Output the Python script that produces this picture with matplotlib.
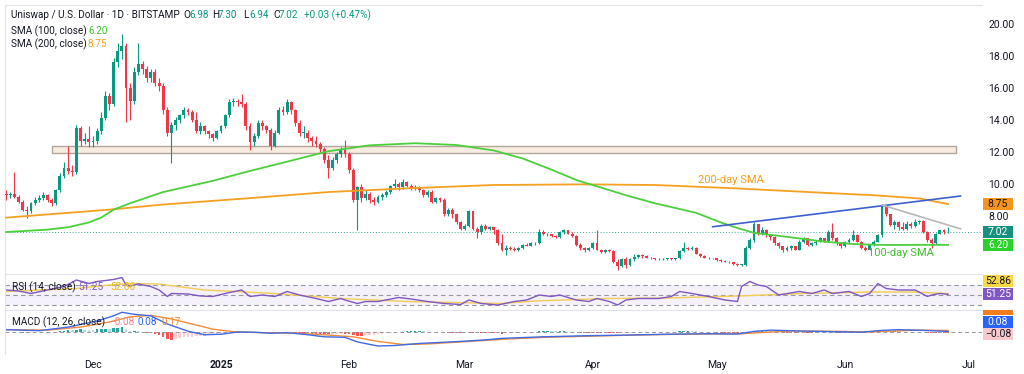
import numpy as np
import pandas as pd
import matplotlib
matplotlib.use('Agg')
import matplotlib.pyplot as plt
from matplotlib.patches import Rectangle

plt.rcParams['font.family'] = ['Roboto', 'DejaVu Sans']

# daily UNI/USD candles, 2024-11-10 .. 2025-06-26 (open = previous close)
start = '2024-11-10'
first_open = 9.4
closes = [
    9.3, 9.35, 9.2, 8.9, 8.4, 8.3, 8.8, 9.0, 9.1, 9.3,
    9.0, 8.8, 9.6, 10.5, 11.0, 10.8, 10.75, 13.5, 12.7, 12.8,
    12.6, 12.7, 13.3, 14.1, 15.5, 15.0, 17.6, 18.3, 18.6, 16.0,
    15.2, 17.0, 17.5, 17.2, 16.6, 17.0, 16.3, 16.1, 14.6, 13.2,
    13.7, 14.0, 14.3, 14.6, 14.5, 14.0, 13.3, 13.6, 13.3, 13.1,
    12.9, 13.3, 13.6, 14.3, 15.1, 15.2, 15.1, 15.0, 13.6, 12.6,
    13.0, 13.8, 13.6, 13.4, 12.4, 13.2, 14.6, 14.5, 15.1, 14.6,
    13.8, 13.2, 13.2, 12.9, 12.7, 12.5, 12.2, 11.5, 11.0, 11.5,
    11.9, 12.2, 11.9, 10.9, 9.0, 9.8, 9.1, 9.4, 9.0, 8.9,
    9.2, 9.3, 9.5, 9.85, 10.0, 9.8, 10.1, 9.9, 9.7, 9.8,
    9.6, 9.3, 9.5, 8.9, 9.1, 9.0, 8.1, 8.4, 8.1, 7.6,
    7.2, 7.4, 8.3, 7.2, 7.0, 7.4, 7.2, 7.3, 7.1, 6.3,
    5.9, 6.0, 5.95, 5.85, 6.0, 6.2, 6.15, 6.3, 6.3, 7.0,
    6.85, 6.85, 6.75, 6.7, 7.0, 7.1, 6.9, 6.75, 6.2, 6.0,
    5.85, 6.0, 6.3, 5.9, 5.75, 5.9, 5.8, 5.15, 4.9, 5.3,
    4.95, 5.3, 5.45, 5.55, 5.5, 5.4, 5.35, 5.3, 5.3, 5.3,
    5.35, 5.3, 5.35, 5.8, 6.0, 5.95, 6.0, 5.65, 5.5, 5.4,
    5.35, 5.35, 5.25, 5.2, 5.15, 5.1, 5.0, 4.95, 4.95, 6.0,
    6.5, 7.5, 6.9, 7.1, 6.8, 6.7, 6.3, 6.1, 5.85, 6.0,
    6.1, 5.9, 6.4, 6.6, 6.2, 6.3, 6.4, 6.6, 6.45, 7.0,
    6.6, 6.3, 6.1, 6.4, 6.5, 6.8, 6.4, 6.0, 5.9, 6.2,
    6.4, 6.8, 8.7, 8.1, 7.45, 7.6, 7.3, 7.2, 7.5, 7.4,
    7.6, 7.7, 7.0, 6.5, 6.3, 6.9, 7.1, 6.98, 7.02]
highs = [
    9.6, 9.5, 10.75, 9.3, 9.0, 8.6, 8.9, 9.2, 9.3, 9.5,
    9.4, 9.1, 9.7, 10.7, 11.4, 12.4, 11.2, 13.7, 13.6, 13.2,
    13.6, 13.0, 13.5, 14.5, 15.8, 15.7, 17.9, 18.8, 19.4, 18.8,
    16.3, 17.3, 18.8, 17.7, 17.4, 17.2, 17.2, 16.6, 16.3, 14.8,
    13.9, 14.2, 14.4, 14.8, 14.75, 14.6, 14.5, 13.9, 13.7, 13.4,
    13.2, 13.4, 13.7, 14.4, 15.3, 15.4, 15.3, 15.6, 15.1, 13.8,
    13.2, 14.0, 14.0, 13.7, 13.5, 13.4, 14.8, 14.9, 15.3, 15.2,
    14.7, 14.0, 13.6, 13.4, 13.0, 13.0, 12.6, 12.3, 11.8, 11.7,
    12.0, 12.3, 12.75, 12.0, 11.0, 9.9, 10.0, 9.6, 9.5, 9.2,
    9.3, 9.45, 9.6, 9.95, 10.3, 10.1, 10.3, 10.2, 10.0, 9.95,
    9.9, 9.7, 9.6, 9.6, 9.2, 9.2, 9.1, 8.5, 8.5, 8.2,
    7.7, 7.5, 8.4, 8.3, 7.3, 7.5, 7.5, 7.4, 7.3, 7.2,
    6.9, 6.2, 6.1, 6.05, 6.05, 6.25, 6.3, 6.35, 6.4, 7.2,
    7.1, 6.95, 6.9, 6.8, 7.05, 7.2, 7.15, 7.0, 6.8, 6.3,
    6.05, 6.05, 6.35, 7.1, 5.95, 5.95, 5.95, 5.85, 5.3, 5.4,
    5.45, 5.35, 5.6, 5.65, 5.6, 5.55, 5.45, 5.4, 5.4, 5.4,
    5.4, 5.4, 5.4, 5.9, 6.4, 6.05, 6.1, 6.05, 5.7, 5.55,
    5.45, 5.4, 5.4, 5.3, 5.25, 5.2, 5.15, 5.05, 5.0, 6.1,
    6.65, 7.6, 7.5, 7.3, 7.2, 6.9, 6.75, 6.4, 6.15, 6.1,
    6.2, 6.15, 6.5, 6.7, 6.65, 6.4, 6.5, 6.7, 6.65, 7.1,
    7.55, 6.7, 6.35, 6.45, 6.6, 7.1, 6.85, 6.45, 6.1, 6.25,
    6.5, 6.9, 8.75, 8.7, 8.15, 7.75, 7.7, 7.6, 7.7, 7.6,
    7.8, 7.75, 7.75, 7.05, 6.6, 6.95, 7.15, 7.2, 7.30]
lows = [
    9.0, 9.1, 9.1, 8.8, 8.3, 7.9, 8.2, 8.7, 8.9, 9.0,
    8.9, 8.6, 8.7, 9.5, 10.4, 10.6, 10.5, 10.6, 12.4, 12.5,
    12.3, 12.3, 12.5, 13.1, 14.0, 14.6, 14.9, 17.3, 17.8, 13.9,
    14.0, 15.0, 16.8, 16.9, 16.4, 16.4, 16.1, 15.8, 14.4, 13.0,
    11.3, 13.4, 13.8, 14.1, 14.3, 13.9, 13.2, 13.1, 13.1, 12.9,
    12.7, 12.8, 13.2, 13.5, 14.2, 14.9, 14.9, 14.8, 13.4, 12.1,
    12.4, 12.9, 13.4, 13.2, 12.1, 12.3, 13.1, 14.3, 14.4, 14.4,
    13.6, 13.0, 12.9, 12.6, 12.4, 12.3, 12.0, 11.3, 10.4, 10.9,
    11.3, 11.7, 11.7, 10.7, 8.9, 7.1, 8.9, 9.0, 8.8, 8.7,
    8.8, 9.0, 9.2, 9.4, 9.7, 9.6, 9.7, 9.8, 9.6, 9.6,
    9.5, 9.2, 9.2, 8.8, 8.8, 8.9, 8.0, 8.0, 7.9, 7.5,
    7.1, 7.1, 7.3, 7.1, 6.6, 6.9, 7.1, 7.1, 6.9, 6.2,
    5.8, 5.55, 5.85, 5.8, 5.8, 5.95, 6.1, 6.1, 6.2, 6.25,
    6.8, 6.75, 6.7, 6.65, 6.65, 6.9, 6.85, 6.7, 6.1, 5.9,
    5.75, 5.8, 5.95, 5.85, 5.7, 5.7, 5.75, 5.05, 4.6, 4.8,
    4.75, 4.9, 5.2, 5.4, 5.4, 5.35, 5.3, 5.25, 5.25, 5.25,
    5.25, 5.25, 5.25, 5.3, 5.75, 5.85, 5.9, 5.6, 5.45, 5.35,
    5.3, 5.3, 5.2, 5.15, 5.1, 5.05, 4.95, 4.9, 4.85, 4.9,
    5.95, 6.4, 6.8, 6.8, 6.7, 6.5, 6.2, 6.0, 5.75, 5.8,
    5.9, 5.85, 5.85, 6.3, 6.1, 6.1, 6.2, 6.35, 6.4, 6.4,
    6.5, 6.2, 6.0, 6.05, 6.3, 6.45, 6.35, 5.95, 5.8, 5.85,
    6.1, 6.35, 6.7, 8.0, 7.35, 7.2, 7.1, 7.1, 7.1, 7.25,
    7.3, 7.5, 6.95, 6.4, 6.0, 6.25, 6.85, 6.9, 6.94]

# moving averages (day index, value)
sma100_idx = [0, 10, 15, 20, 23, 26, 30, 38, 50, 58, 68, 78, 88, 99, 109, 118,
              125, 132, 138, 145, 150, 157, 167, 173, 177, 181, 189, 198, 205, 213, 220, 228]
sma100_val = [7.0, 7.15, 7.3, 7.6, 7.9, 8.4, 8.8, 9.5, 10.2, 10.75, 11.4, 12.05, 12.42, 12.55, 12.44, 12.1,
              11.6, 10.9, 10.25, 9.7, 9.3, 8.8, 8.2, 7.6, 7.25, 6.95, 6.7, 6.4, 6.25, 6.19, 6.2, 6.2]
sma200_idx = [0, 25, 38, 58, 78, 97, 118, 140, 157, 175, 198, 210, 221, 228]
sma200_val = [7.9, 8.4, 8.72, 9.1, 9.5, 9.73, 9.94, 9.98, 9.94, 9.75, 9.45, 9.3, 9.1, 8.75]

# RSI(14) and its moving average
rsi_idx = [0, 3, 6, 10, 14, 17, 20, 22, 26, 28, 29, 30, 32, 35, 37, 39, 40, 44, 47, 50,
           53, 57, 59, 62, 65, 68, 71, 75, 78, 81, 82, 85, 87, 90, 95, 98, 102, 106, 110, 112,
           115, 119, 123, 126, 129, 132, 134, 138, 141, 143, 146, 148, 150, 153, 158, 161, 163, 166, 170, 174,
           177, 178, 180, 182, 184, 187, 192, 195, 198, 200, 204, 207, 209, 211, 213, 216, 220, 223, 224, 226, 228]
rsi_val = [60, 58, 53, 60, 67, 80, 73, 77, 81, 85, 70, 68, 72, 67, 60, 47, 53, 52, 48, 47,
           53, 60, 47, 50, 47, 57, 50, 43, 37, 43, 40, 33, 37, 37, 45, 42, 37, 33, 31, 40,
           33, 30, 37, 40, 50, 47, 50, 40, 37, 43, 37, 30, 40, 43, 43, 47, 57, 53, 47, 40,
           37, 67, 77, 70, 67, 50, 57, 53, 60, 53, 57, 47, 53, 73, 63, 60, 60, 47, 50, 53, 51.25]
rsi_ma_idx = [0, 17, 25, 30, 37, 48, 65, 81, 97, 120, 128, 145, 160, 177, 193, 209, 220, 228]
rsi_ma_val = [57, 63, 70, 73, 72, 60, 53, 43, 37, 33, 38, 43, 44, 48, 53, 56, 56, 52.86]

# MACD(12, 26) line, signal, histogram
macd_idx = [0, 8, 15, 22, 26, 28, 31, 35, 39, 44, 48, 52, 56, 60, 64, 68, 72, 77, 82, 85, 90,
            94, 100, 105, 110, 116, 120, 130, 140, 150, 160, 170, 177, 181, 185, 192, 200, 207, 212, 216, 222, 228]
macd_val = [0.25, 0.15, 0.5, 1.1, 1.6, 1.95, 1.75, 1.6, 0.8, 0.1, -0.25, -0.2, 0.02, 0.0, -0.1, -0.05, -0.2,
            -0.45, -0.5, -0.95, -1.35, -1.3, -1.1, -1.0, -0.9, -0.75, -0.6, -0.45, -0.35, -0.28, -0.2, -0.15,
            -0.18, 0.08, 0.2, 0.12, 0.05, 0.0, 0.18, 0.25, 0.18, 0.08]
signal_idx = [0, 10, 18, 25, 30, 35, 40, 45, 50, 55, 62, 70, 77, 84, 90, 96, 102, 110, 120, 130,
              140, 150, 160, 170, 178, 183, 190, 200, 208, 214, 220, 228]
signal_val = [0.25, 0.2, 0.5, 1.0, 1.5, 1.65, 1.3, 0.8, 0.3, 0.05, -0.05, -0.1, -0.25, -0.45, -0.9, -1.2,
              -1.15, -0.95, -0.7, -0.5, -0.4, -0.3, -0.22, -0.17, -0.15, -0.03, 0.12, 0.09, 0.03, 0.1, 0.2, 0.17]
hist = [
    0.05, 0.04, 0.03, 0.0, -0.03, -0.05, -0.04, -0.02, 0.0, 0.02,
    0.03, 0.02, 0.05, 0.1, 0.15, 0.18, 0.17, 0.25, 0.27, 0.26,
    0.25, 0.24, 0.27, 0.3, 0.35, 0.33, 0.4, 0.45, 0.47, 0.3,
    0.12, 0.15, 0.12, 0.02, -0.08, -0.1, -0.2, -0.3, -0.5, -0.7,
    -0.72, -0.7, -0.6, -0.5, -0.45, -0.42, -0.4, -0.38, -0.35, -0.3,
    -0.28, -0.22, -0.15, -0.08, 0.0, 0.05, 0.06, 0.05, -0.02, -0.05,
    -0.06, -0.04, -0.04, -0.05, -0.1, -0.08, -0.03, 0.0, 0.02, 0.0,
    -0.05, -0.08, -0.1, -0.12, -0.14, -0.16, -0.18, -0.2, -0.22, -0.2,
    -0.18, -0.15, -0.15, -0.2, -0.3, -0.33, -0.35, -0.32, -0.28, -0.25,
    -0.22, -0.18, -0.12, -0.06, -0.02, 0.02, 0.05, 0.07, 0.08, 0.08,
    0.08, 0.07, 0.06, 0.04, 0.03, 0.02, -0.04, -0.05, -0.07, -0.1,
    -0.12, -0.1, -0.05, -0.07, -0.08, -0.08, -0.08, -0.07, -0.08, -0.12,
    -0.13, -0.12, -0.1, -0.08, -0.05, -0.02, 0.02, 0.04, 0.06, 0.1,
    0.1, 0.1, 0.09, 0.08, 0.08, 0.08, 0.06, 0.04, 0.0, -0.03,
    -0.05, -0.05, -0.03, -0.04, -0.06, -0.07, -0.08, -0.1, -0.12, -0.09,
    -0.06, -0.03, 0.0, 0.03, 0.04, 0.05, 0.05, 0.05, 0.05, 0.04,
    0.04, 0.04, 0.05, 0.08, 0.1, 0.1, 0.09, 0.07, 0.04, 0.02,
    0.0, -0.02, -0.03, -0.04, -0.05, -0.06, -0.07, -0.07, -0.06, 0.0,
    0.06, 0.13, 0.13, 0.14, 0.12, 0.1, 0.06, 0.02, -0.03, -0.05,
    -0.05, -0.06, -0.04, -0.02, -0.04, -0.04, -0.03, -0.01, -0.02, 0.01,
    0.0, -0.03, -0.06, -0.05, -0.04, -0.02, -0.04, -0.07, -0.09, -0.08,
    -0.05, -0.01, 0.1, 0.12, 0.1, 0.1, 0.08, 0.06, 0.06, 0.05,
    0.05, 0.05, 0.0, -0.06, -0.1, -0.1, -0.09, -0.09, -0.09]

# drawn objects
zone_dates = ['2024-11-21', '2025-06-28']
zone_prices = [11.96, 12.4]
rising_line = (['2025-04-30', '2025-06-29'], [7.33, 9.25])
falling_line = (['2025-06-10', '2025-06-29'], [8.69, 7.2])
month_ticks = ['2024-12-01', '2025-01-01', '2025-02-01', '2025-03-01', '2025-04-01',
               '2025-05-01', '2025-06-01', '2025-07-01']
month_labels = ['Dec', '2025', 'Feb', 'Mar', 'Apr', 'May', 'Jun', 'Jul']
price_ticks = [8, 10, 12, 14, 16, 18, 20]

UP, DOWN = '#089981', '#f23645'
GREEN, ORANGE = '#4ccf3a', '#f5a020'
TXT = '#131722'
GRID = '#e0e3eb'

dates = pd.date_range(start, periods=len(closes), freq='D')
opens = [first_open] + closes[:-1]
t0 = dates[0]

W, H = 1024, 374
fig = plt.figure(figsize=(W / 100, H / 100), dpi=100)


def box(top, bottom):
    return [5 / W, 1 - bottom / H, 977 / W, (bottom - top) / H]


ax = fig.add_axes(box(5, 273))
ax_rsi = fig.add_axes(box(274, 309), sharex=ax)
ax_macd = fig.add_axes(box(310, 354), sharex=ax)

for a in (ax, ax_rsi, ax_macd):
    for side in ('right', 'bottom'):
        a.spines[side].set_visible(False)
    for side in ('top', 'left'):
        a.spines[side].set_color(GRID)
        a.spines[side].set_linewidth(0.8)
    a.set_yticks([])
    a.tick_params(axis='x', length=0, labelbottom=False)

# ---- price panel
o = np.array(opens)
c = np.array(closes)
cols = np.where(c >= o, UP, DOWN)
ax.vlines(dates, lows, highs, colors=cols, linewidth=0.8, zorder=3)
ax.bar(dates, np.maximum(np.abs(c - o), 0.04), bottom=np.minimum(o, c),
       width=0.7, color=cols, linewidth=0, zorder=3)

zx = pd.to_datetime(zone_dates)
ax.add_patch(Rectangle((zx[0], zone_prices[0]), zx[1] - zx[0], zone_prices[1] - zone_prices[0],
                       facecolor='#f3dcc8', alpha=0.55, edgecolor='none', zorder=1))
ax.add_patch(Rectangle((zx[0], zone_prices[0]), zx[1] - zx[0], zone_prices[1] - zone_prices[0],
                       facecolor='none', edgecolor='#b3a79c', linewidth=1.0, zorder=1))

ax.plot(dates[sma200_idx], sma200_val, color=ORANGE, linewidth=1.3, zorder=4)
ax.plot(dates[sma100_idx], sma100_val, color=GREEN, linewidth=1.3, zorder=4)
ax.plot(pd.to_datetime(rising_line[0]), rising_line[1], color='#3d5fd3', linewidth=1.2, zorder=5)
ax.plot(pd.to_datetime(falling_line[0]), falling_line[1], color='#b8b8b8', linewidth=1.2, zorder=5)
ax.axhline(closes[-1], color=UP, linestyle=(0, (1, 2)), linewidth=0.7, alpha=0.8, zorder=2)

ax.text(pd.Timestamp('2025-05-04 12:00'), 10.25, '200-day SMA', color=ORANGE, fontsize=8,
        ha='center', va='center')
ax.text(pd.Timestamp('2025-06-14 12:00'), 5.69, '100-day SMA', color='#3fbf2f', fontsize=8,
        ha='center', va='center')

ax.set_xlim(t0 - pd.Timedelta(hours=7), t0 + pd.Timedelta(days=236.2))
ax.set_ylim(4.44, 21.19)
ax.yaxis.tick_right()
ax.set_yticks(price_ticks)
ax.set_yticklabels(['%.2f' % v for v in price_ticks])
ax.tick_params(axis='y', length=0, pad=4.5, labelsize=7.5, labelcolor=TXT)

# ---- RSI panel
xr = [ax.get_xlim()[0], ax.get_xlim()[1]]
ax_rsi.fill_between(xr, 30, 70, color='#7e57c2', alpha=0.08, linewidth=0)
for lvl in (70, 50, 30):
    ax_rsi.axhline(lvl, color='#9598a1', linestyle=(0, (4, 3)), linewidth=0.8)
ax_rsi.plot(dates[rsi_ma_idx], rsi_ma_val, color='#f2cc55', linewidth=1.0)
ax_rsi.plot(dates[rsi_idx], rsi_val, color='#7e57c2', linewidth=1.0)
ax_rsi.set_ylim(22, 92)

# ---- MACD panel
h = np.array(hist)
prev = np.concatenate([[h[0]], h[:-1]])
hcols = np.where(h >= 0, np.where(h >= prev, '#26a69a', '#b2dfdb'),
                 np.where(h <= prev, '#ff5252', '#ffcdd2'))
ax_macd.bar(dates, h, width=0.62, color=hcols, linewidth=0)
ax_macd.axhline(0, color='#9598a1', linestyle=(0, (4, 3)), linewidth=0.7)
ax_macd.plot(dates[signal_idx], signal_val, color='#f28c38', linewidth=1.0)
ax_macd.plot(dates[macd_idx], macd_val, color='#3f6ae6', linewidth=1.0)
ax_macd.set_ylim(-2.13, 2.17)

ax_macd.set_xticks(pd.to_datetime(month_ticks))
ax_macd.set_xticklabels(month_labels)
ax_macd.tick_params(axis='x', labelbottom=True, labelsize=7.5, labelcolor=TXT, pad=4)
for lab in ax_macd.get_xticklabels():
    if lab.get_text() == '2025':
        lab.set_fontweight('bold')


# ---- right-hand value tags
def tag(y_px, s, fc, tc):
    fig.patches.append(Rectangle((983 / W, 1 - (y_px + 6) / H), 30 / W, 12 / H,
                                 transform=fig.transFigure, facecolor=fc, edgecolor='none'))
    fig.text(998 / W, 1 - y_px / H, s, color=tc, fontsize=7.5, ha='center', va='center')


def price_px(v):
    return H - ax.transData.transform((0, v))[1]


tag(price_px(8.75), '8.75', '#f7941d', TXT)
tag(price_px(closes[-1]), '%.2f' % closes[-1], '#16917f', 'white')
tag(price_px(6.20), '6.20', '#2bd12b', 'white')
tag(280.5, '52.86', '#f9d84a', TXT)
tag(294, '51.25', '#7e57c2', 'white')
fig.patches.append(Rectangle((983 / W, 1 - 315 / H), 30 / W, 5 / H,
                             transform=fig.transFigure, facecolor='#f57c1f', edgecolor='none'))
tag(322, '0.08', '#2962ff', 'white')
tag(334, '\u22120.08', '#f8c8cc', TXT)


# ---- legends / header
def ftext(x, y, s, color=TXT, size=7.2):
    fig.text(x / W, 1 - y / H, s, color=color, fontsize=size, ha='left', va='center')


ftext(11, 15, 'Uniswap / U.S. Dollar \u00b7 1D \u00b7 BITSTAMP')
for x, letter, val in [(183, 'O', '6.98'), (212, 'H', '7.30'), (243, 'L', '6.94'), (273, 'C', '7.02')]:
    ftext(x, 15, letter)
    ftext(x + 6, 15, val, UP)
ftext(304, 15, '+0.03 (+0.47%)', UP)
ftext(11, 31, 'SMA (100, close)')
ftext(88, 31, '6.20', '#3fbf2f')
ftext(11, 44, 'SMA (200, close)')
ftext(88, 44, '8.75', ORANGE)

ftext(12, 287, 'RSI (14, close)')
ftext(78, 287, '51.25', '#7e57c2')
ftext(110, 287, '52.86', '#e8b820')
ftext(12, 322, 'MACD (12, 26, close)')
ftext(109, 322, '\u22120.08', '#f4838d')
ftext(137, 322, '0.08', '#2962ff')
ftext(161, 322, '0.17', '#f28c38')

fig.savefig('out.png', dpi=100, facecolor='white')
